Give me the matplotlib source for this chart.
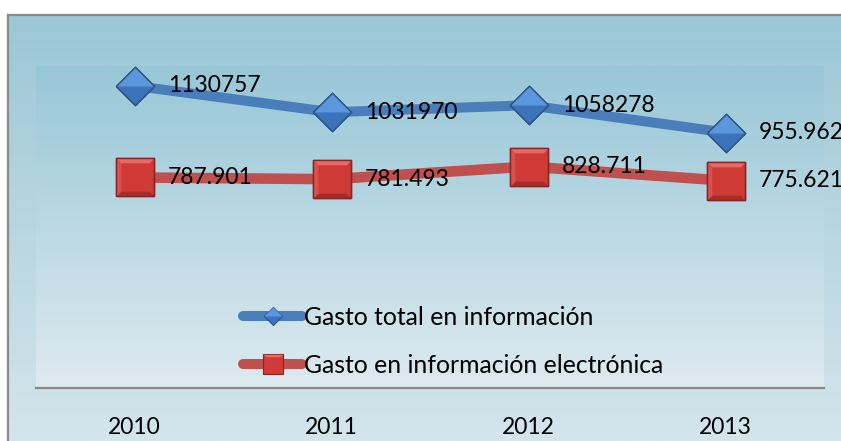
import numpy as np
import matplotlib
matplotlib.use("Agg")
import matplotlib.pyplot as plt
from matplotlib.lines import Line2D
from matplotlib.legend_handler import HandlerTuple

# ---- data ----
years = ["2010", "2011", "2012", "2013"]
total_values = [1130757, 1031970, 1058278, 955962]
total_labels = ["1130757", "1031970", "1058278", "955.962"]
elec_values = [787901, 781493, 828711, 775621]
elec_labels = ["787.901", "781.493", "828.711", "775.621"]
series_names = ["Gasto total en información", "Gasto en información electrónica"]

FONT = "Lato"
plt.rcParams["font.family"] = [FONT, "DejaVu Sans"]

W, H = 841, 441
fig = plt.figure(figsize=(W / 100, H / 100), dpi=100)
fig.patch.set_facecolor("white")

# outer chart background gradient
bg = fig.add_axes([8 / W, 0, 1 - 8 / W, (H - 15) / H], zorder=-10)
top_c = np.array([156, 199, 214]) / 255
bot_c = np.array([212, 229, 236]) / 255
t = np.linspace(0, 1, 256)[:, None]
grad = top_c[None, None, :] * (1 - t[..., None]) + bot_c[None, None, :] * t[..., None]
grad = np.repeat(grad, 2, axis=1)
bg.imshow(grad, aspect="auto", extent=[0, 1, 0, 1], interpolation="bilinear")
bg.set_xlim(0, 1)
bg.set_ylim(0, 1)
bg.axis("off")
# border lines (left and top)
fig.add_artist(Line2D([8 / W, 8 / W], [0, (H - 15) / H], color="#8a8a8a", lw=1.6,
                      transform=fig.transFigure))
fig.add_artist(Line2D([8 / W, 1], [(H - 15) / H, (H - 15) / H], color="#8a8a8a", lw=1.6,
                      transform=fig.transFigure))

# plot area
L, R, T, B = 36, 824, 66, 388
ax = fig.add_axes([L / W, (H - B) / H, (R - L) / W, (B - T) / H])
ax.patch.set_alpha(0)
ptop = np.array([152, 199, 215]) / 255
pbot = np.array([222, 234, 240]) / 255
pgrad = ptop[None, None, :] * (1 - t[..., None]) + pbot[None, None, :] * t[..., None]
pgrad = np.repeat(pgrad, 2, axis=1)
ax.imshow(pgrad, aspect="auto", extent=[0, 1, 0, 1], transform=ax.transAxes,
          interpolation="bilinear", zorder=0)

x = np.arange(len(years))
ax.set_xlim(-0.5, len(years) - 0.5)
ax.set_ylim(0, 1205000)

blue_line = "#4A7EBB"
red_line = "#C0504D"

# marker pieces (bevel look)
d_full = [(-1, 0), (0, 1), (1, 0), (0, -1), (-1, 0)]
d_top = [(-1, 0), (0, 1), (1, 0), (-1, 0)]
s_full = [(-1, -1), (-1, 1), (1, 1), (1, -1), (-1, -1)]
s_top = [(-1, 1), (1, 1), (0.75, 0.75), (-0.75, 0.75), (-1, 1)]
s_bot = [(-1, -1), (1, -1), (0.75, -0.75), (-0.75, -0.75), (-1, -1)]
s_left = [(-1, -1), (-1, 1), (-0.75, 0.75), (-0.75, -0.75), (-1, -1)]

ax.plot(x, total_values, color=blue_line, lw=7.2, solid_joinstyle="round", zorder=3)
ax.plot(x, elec_values, color=red_line, lw=7.6, solid_joinstyle="round", zorder=3)

dms = 27.6
sms = 27.2
ax.plot(x, total_values, ls="none", marker=d_full, ms=dms, mfc="#3C74BC",
        mec="#2B5688", mew=1.0, zorder=4)
ax.plot(x, total_values, ls="none", marker=d_top, ms=dms, mfc="#5B97DE",
        mec="none", zorder=5)
ax.plot(x, total_values, ls="none", marker=d_full, ms=dms, mfc="none",
        mec="#2B5688", mew=1.0, zorder=6)

ax.plot(x, elec_values, ls="none", marker=s_full, ms=sms, mfc="#CF3A36",
        mec="#862624", mew=1.0, zorder=4)
ax.plot(x, elec_values, ls="none", marker=s_top, ms=sms, mfc="#E86A66",
        mec="none", zorder=5)
ax.plot(x, elec_values, ls="none", marker=s_bot, ms=sms, mfc="#A82C29",
        mec="none", zorder=5)
ax.plot(x, elec_values, ls="none", marker=s_left, ms=sms, mfc="#D9504C",
        mec="none", zorder=5)
ax.plot(x, elec_values, ls="none", marker=s_full, ms=sms, mfc="none",
        mec="#862624", mew=1.0, zorder=6)

lab_fs = 16.5
for xi, v, s in zip(x, total_values, total_labels):
    ax.annotate(s, (xi, v), xytext=(24, 0), textcoords="offset points",
                ha="left", va="center", fontsize=lab_fs, color="black", zorder=7,
                annotation_clip=False)
for xi, v, s in zip(x, elec_values, elec_labels):
    ax.annotate(s, (xi, v), xytext=(24, 0), textcoords="offset points",
                ha="left", va="center", fontsize=lab_fs, color="black", zorder=7,
                annotation_clip=False)

# axes styling
for sp in ["left", "right", "top"]:
    ax.spines[sp].set_visible(False)
ax.spines["bottom"].set_color("#8a8a8a")
ax.spines["bottom"].set_linewidth(1.6)
ax.spines["bottom"].set_zorder(8)
ax.set_yticks([])
ax.set_xticks(x)
ax.set_xticklabels(years, fontsize=16.5)
ax.tick_params(axis="x", length=0, pad=21, colors="black")

# legend
leg_fs = 17.8
h1 = (Line2D([], [], color=blue_line, lw=7.2, solid_capstyle="round"),
      Line2D([], [], ls="none", marker=d_full, ms=13, mfc="#3C74BC", mec="#2B5688", mew=0.8),
      Line2D([], [], ls="none", marker=d_top, ms=13, mfc="#5B97DE", mec="none"))
h2 = (Line2D([], [], color=red_line, lw=7.2, solid_capstyle="round"),
      Line2D([], [], ls="none", marker=s_full, ms=14, mfc="#CF3A36", mec="#862624", mew=0.8),
      Line2D([], [], ls="none", marker=s_top, ms=14, mfc="#E86A66", mec="none"))
leg = ax.legend([h1, h2], series_names, loc="center left",
                bbox_to_anchor=((243 - L) / (R - L), (B - 341.5) / (B - T)),
                frameon=False, fontsize=leg_fs, handlelength=2.4, handletextpad=0.06,
                labelspacing=1.02, borderpad=0, borderaxespad=0,
                handler_map={tuple: HandlerTuple(ndivide=1, pad=0)})
leg.set_zorder(9)

fig.savefig("out.png", dpi=100)
